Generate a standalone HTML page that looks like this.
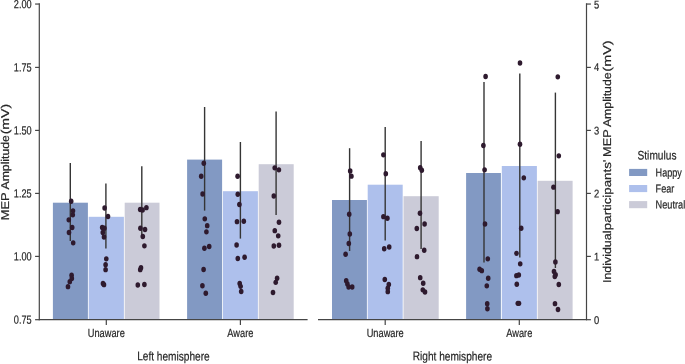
<!DOCTYPE html>
<html><head><meta charset="utf-8"><title>MEP Amplitude chart</title>
<style>html,body{margin:0;padding:0;background:#fff;}body{width:685px;height:364px;overflow:hidden;font-family:"Liberation Sans",sans-serif;}svg{display:block;will-change:transform;}</style>
</head><body>
<svg width="685" height="364" viewBox="0 0 685 364">
<rect width="685" height="364" fill="#fff"/>
<rect x="52.90" y="202.7" width="35.00" height="117.0" fill="#8299c3"/>
<rect x="88.70" y="216.8" width="35.20" height="102.9" fill="#aec0ec"/>
<rect x="124.70" y="202.7" width="34.80" height="117.0" fill="#cbcbd8"/>
<rect x="187.10" y="159.6" width="35.00" height="160.1" fill="#8299c3"/>
<rect x="222.90" y="191.2" width="35.00" height="128.5" fill="#aec0ec"/>
<rect x="258.70" y="164.2" width="35.00" height="155.5" fill="#cbcbd8"/>
<rect x="332.00" y="200.0" width="34.90" height="119.7" fill="#8299c3"/>
<rect x="367.70" y="184.7" width="35.00" height="135.0" fill="#aec0ec"/>
<rect x="403.50" y="196.2" width="35.20" height="123.5" fill="#cbcbd8"/>
<rect x="466.10" y="173.0" width="34.80" height="146.7" fill="#8299c3"/>
<rect x="501.80" y="166.0" width="35.10" height="153.7" fill="#aec0ec"/>
<rect x="537.70" y="180.8" width="34.90" height="138.9" fill="#cbcbd8"/>
<line x1="70.3" y1="162.9" x2="70.3" y2="241" stroke="#353535" stroke-width="1.4"/>
<line x1="105.9" y1="183.4" x2="105.9" y2="248.6" stroke="#353535" stroke-width="1.4"/>
<line x1="141.8" y1="166.3" x2="141.8" y2="238" stroke="#353535" stroke-width="1.4"/>
<line x1="204.6" y1="107" x2="204.6" y2="210.6" stroke="#353535" stroke-width="1.4"/>
<line x1="240.4" y1="142" x2="240.4" y2="238.6" stroke="#353535" stroke-width="1.4"/>
<line x1="276.1" y1="111.6" x2="276.1" y2="215" stroke="#353535" stroke-width="1.4"/>
<line x1="349.6" y1="148.2" x2="349.6" y2="251" stroke="#353535" stroke-width="1.4"/>
<line x1="385.2" y1="127" x2="385.2" y2="240.5" stroke="#353535" stroke-width="1.4"/>
<line x1="421.1" y1="141" x2="421.1" y2="249" stroke="#353535" stroke-width="1.4"/>
<line x1="484.0" y1="82" x2="484.0" y2="262.6" stroke="#353535" stroke-width="1.4"/>
<line x1="519.8" y1="73.6" x2="519.8" y2="257.4" stroke="#353535" stroke-width="1.4"/>
<line x1="555.4" y1="92.6" x2="555.4" y2="268" stroke="#353535" stroke-width="1.4"/>
<ellipse cx="71.20" cy="201.25" rx="2.3" ry="2.7" fill="#2e1a2e"/>
<ellipse cx="73.00" cy="210.85" rx="2.3" ry="2.7" fill="#2e1a2e"/>
<ellipse cx="72.80" cy="214.85" rx="2.3" ry="2.7" fill="#2e1a2e"/>
<ellipse cx="68.80" cy="219.85" rx="2.3" ry="2.7" fill="#2e1a2e"/>
<ellipse cx="72.20" cy="227.45" rx="2.3" ry="2.7" fill="#2e1a2e"/>
<ellipse cx="69.00" cy="232.45" rx="2.3" ry="2.7" fill="#2e1a2e"/>
<ellipse cx="73.20" cy="242.85" rx="2.3" ry="2.7" fill="#2e1a2e"/>
<ellipse cx="71.60" cy="275.25" rx="2.3" ry="2.7" fill="#2e1a2e"/>
<ellipse cx="71.80" cy="278.45" rx="2.3" ry="2.7" fill="#2e1a2e"/>
<ellipse cx="69.80" cy="281.65" rx="2.3" ry="2.7" fill="#2e1a2e"/>
<ellipse cx="68.00" cy="286.65" rx="2.3" ry="2.7" fill="#2e1a2e"/>
<ellipse cx="104.60" cy="208.05" rx="2.3" ry="2.7" fill="#2e1a2e"/>
<ellipse cx="108.00" cy="216.45" rx="2.3" ry="2.7" fill="#2e1a2e"/>
<ellipse cx="102.20" cy="227.45" rx="2.3" ry="2.7" fill="#2e1a2e"/>
<ellipse cx="104.40" cy="228.25" rx="2.3" ry="2.7" fill="#2e1a2e"/>
<ellipse cx="102.80" cy="232.45" rx="2.3" ry="2.7" fill="#2e1a2e"/>
<ellipse cx="104.00" cy="237.05" rx="2.3" ry="2.7" fill="#2e1a2e"/>
<ellipse cx="106.30" cy="258.85" rx="2.3" ry="2.7" fill="#2e1a2e"/>
<ellipse cx="105.60" cy="264.65" rx="2.3" ry="2.7" fill="#2e1a2e"/>
<ellipse cx="105.60" cy="269.65" rx="2.3" ry="2.7" fill="#2e1a2e"/>
<ellipse cx="103.00" cy="283.45" rx="2.3" ry="2.7" fill="#2e1a2e"/>
<ellipse cx="104.00" cy="284.65" rx="2.3" ry="2.7" fill="#2e1a2e"/>
<ellipse cx="146.40" cy="207.65" rx="2.3" ry="2.7" fill="#2e1a2e"/>
<ellipse cx="140.20" cy="209.45" rx="2.3" ry="2.7" fill="#2e1a2e"/>
<ellipse cx="142.60" cy="210.05" rx="2.3" ry="2.7" fill="#2e1a2e"/>
<ellipse cx="140.40" cy="228.25" rx="2.3" ry="2.7" fill="#2e1a2e"/>
<ellipse cx="145.00" cy="229.45" rx="2.3" ry="2.7" fill="#2e1a2e"/>
<ellipse cx="142.80" cy="236.45" rx="2.3" ry="2.7" fill="#2e1a2e"/>
<ellipse cx="144.40" cy="245.85" rx="2.3" ry="2.7" fill="#2e1a2e"/>
<ellipse cx="141.00" cy="267.65" rx="2.3" ry="2.7" fill="#2e1a2e"/>
<ellipse cx="140.20" cy="269.65" rx="2.3" ry="2.7" fill="#2e1a2e"/>
<ellipse cx="137.80" cy="285.05" rx="2.3" ry="2.7" fill="#2e1a2e"/>
<ellipse cx="144.40" cy="284.45" rx="2.3" ry="2.7" fill="#2e1a2e"/>
<ellipse cx="203.80" cy="163.25" rx="2.3" ry="2.7" fill="#2e1a2e"/>
<ellipse cx="201.20" cy="176.25" rx="2.3" ry="2.7" fill="#2e1a2e"/>
<ellipse cx="202.60" cy="194.05" rx="2.3" ry="2.7" fill="#2e1a2e"/>
<ellipse cx="204.80" cy="218.85" rx="2.3" ry="2.7" fill="#2e1a2e"/>
<ellipse cx="207.20" cy="225.65" rx="2.3" ry="2.7" fill="#2e1a2e"/>
<ellipse cx="206.40" cy="231.85" rx="2.3" ry="2.7" fill="#2e1a2e"/>
<ellipse cx="204.40" cy="248.25" rx="2.3" ry="2.7" fill="#2e1a2e"/>
<ellipse cx="209.20" cy="246.45" rx="2.3" ry="2.7" fill="#2e1a2e"/>
<ellipse cx="203.60" cy="269.55" rx="2.3" ry="2.7" fill="#2e1a2e"/>
<ellipse cx="202.40" cy="285.75" rx="2.3" ry="2.7" fill="#2e1a2e"/>
<ellipse cx="205.80" cy="293.25" rx="2.3" ry="2.7" fill="#2e1a2e"/>
<ellipse cx="237.60" cy="176.25" rx="2.3" ry="2.7" fill="#2e1a2e"/>
<ellipse cx="237.80" cy="194.25" rx="2.3" ry="2.7" fill="#2e1a2e"/>
<ellipse cx="239.40" cy="204.45" rx="2.3" ry="2.7" fill="#2e1a2e"/>
<ellipse cx="237.00" cy="221.65" rx="2.3" ry="2.7" fill="#2e1a2e"/>
<ellipse cx="243.80" cy="221.25" rx="2.3" ry="2.7" fill="#2e1a2e"/>
<ellipse cx="236.60" cy="245.05" rx="2.3" ry="2.7" fill="#2e1a2e"/>
<ellipse cx="237.80" cy="258.45" rx="2.3" ry="2.7" fill="#2e1a2e"/>
<ellipse cx="244.60" cy="257.25" rx="2.3" ry="2.7" fill="#2e1a2e"/>
<ellipse cx="239.70" cy="283.55" rx="2.3" ry="2.7" fill="#2e1a2e"/>
<ellipse cx="240.60" cy="286.35" rx="2.3" ry="2.7" fill="#2e1a2e"/>
<ellipse cx="241.20" cy="291.45" rx="2.3" ry="2.7" fill="#2e1a2e"/>
<ellipse cx="274.70" cy="167.85" rx="2.3" ry="2.7" fill="#2e1a2e"/>
<ellipse cx="278.90" cy="169.85" rx="2.3" ry="2.7" fill="#2e1a2e"/>
<ellipse cx="273.80" cy="196.05" rx="2.3" ry="2.7" fill="#2e1a2e"/>
<ellipse cx="279.00" cy="222.25" rx="2.3" ry="2.7" fill="#2e1a2e"/>
<ellipse cx="274.80" cy="230.65" rx="2.3" ry="2.7" fill="#2e1a2e"/>
<ellipse cx="278.20" cy="235.85" rx="2.3" ry="2.7" fill="#2e1a2e"/>
<ellipse cx="273.80" cy="246.05" rx="2.3" ry="2.7" fill="#2e1a2e"/>
<ellipse cx="279.00" cy="245.25" rx="2.3" ry="2.7" fill="#2e1a2e"/>
<ellipse cx="277.10" cy="278.25" rx="2.3" ry="2.7" fill="#2e1a2e"/>
<ellipse cx="275.70" cy="282.35" rx="2.3" ry="2.7" fill="#2e1a2e"/>
<ellipse cx="273.00" cy="292.45" rx="2.3" ry="2.7" fill="#2e1a2e"/>
<ellipse cx="350.20" cy="171.05" rx="2.3" ry="2.7" fill="#2e1a2e"/>
<ellipse cx="351.40" cy="176.15" rx="2.3" ry="2.7" fill="#2e1a2e"/>
<ellipse cx="349.20" cy="214.25" rx="2.3" ry="2.7" fill="#2e1a2e"/>
<ellipse cx="349.80" cy="234.05" rx="2.3" ry="2.7" fill="#2e1a2e"/>
<ellipse cx="348.80" cy="243.55" rx="2.3" ry="2.7" fill="#2e1a2e"/>
<ellipse cx="345.60" cy="254.25" rx="2.3" ry="2.7" fill="#2e1a2e"/>
<ellipse cx="346.20" cy="280.65" rx="2.3" ry="2.7" fill="#2e1a2e"/>
<ellipse cx="347.40" cy="284.05" rx="2.3" ry="2.7" fill="#2e1a2e"/>
<ellipse cx="348.60" cy="287.05" rx="2.3" ry="2.7" fill="#2e1a2e"/>
<ellipse cx="352.20" cy="287.05" rx="2.3" ry="2.7" fill="#2e1a2e"/>
<ellipse cx="383.40" cy="154.85" rx="2.3" ry="2.7" fill="#2e1a2e"/>
<ellipse cx="385.80" cy="173.65" rx="2.3" ry="2.7" fill="#2e1a2e"/>
<ellipse cx="383.40" cy="216.65" rx="2.3" ry="2.7" fill="#2e1a2e"/>
<ellipse cx="387.40" cy="218.25" rx="2.3" ry="2.7" fill="#2e1a2e"/>
<ellipse cx="384.20" cy="248.75" rx="2.3" ry="2.7" fill="#2e1a2e"/>
<ellipse cx="389.20" cy="247.05" rx="2.3" ry="2.7" fill="#2e1a2e"/>
<ellipse cx="384.80" cy="279.45" rx="2.3" ry="2.7" fill="#2e1a2e"/>
<ellipse cx="388.80" cy="284.45" rx="2.3" ry="2.7" fill="#2e1a2e"/>
<ellipse cx="387.80" cy="288.25" rx="2.3" ry="2.7" fill="#2e1a2e"/>
<ellipse cx="387.80" cy="291.65" rx="2.3" ry="2.7" fill="#2e1a2e"/>
<ellipse cx="420.20" cy="167.65" rx="2.3" ry="2.7" fill="#2e1a2e"/>
<ellipse cx="421.80" cy="170.25" rx="2.3" ry="2.7" fill="#2e1a2e"/>
<ellipse cx="420.00" cy="213.25" rx="2.3" ry="2.7" fill="#2e1a2e"/>
<ellipse cx="424.60" cy="224.05" rx="2.3" ry="2.7" fill="#2e1a2e"/>
<ellipse cx="416.80" cy="228.45" rx="2.3" ry="2.7" fill="#2e1a2e"/>
<ellipse cx="424.20" cy="250.25" rx="2.3" ry="2.7" fill="#2e1a2e"/>
<ellipse cx="417.00" cy="256.65" rx="2.3" ry="2.7" fill="#2e1a2e"/>
<ellipse cx="420.20" cy="277.65" rx="2.3" ry="2.7" fill="#2e1a2e"/>
<ellipse cx="423.20" cy="283.25" rx="2.3" ry="2.7" fill="#2e1a2e"/>
<ellipse cx="422.80" cy="289.85" rx="2.3" ry="2.7" fill="#2e1a2e"/>
<ellipse cx="425.00" cy="292.05" rx="2.3" ry="2.7" fill="#2e1a2e"/>
<ellipse cx="485.60" cy="76.45" rx="2.3" ry="2.7" fill="#2e1a2e"/>
<ellipse cx="483.40" cy="145.45" rx="2.3" ry="2.7" fill="#2e1a2e"/>
<ellipse cx="484.60" cy="169.85" rx="2.3" ry="2.7" fill="#2e1a2e"/>
<ellipse cx="485.00" cy="224.05" rx="2.3" ry="2.7" fill="#2e1a2e"/>
<ellipse cx="487.80" cy="258.85" rx="2.3" ry="2.7" fill="#2e1a2e"/>
<ellipse cx="479.60" cy="269.25" rx="2.3" ry="2.7" fill="#2e1a2e"/>
<ellipse cx="481.80" cy="270.65" rx="2.3" ry="2.7" fill="#2e1a2e"/>
<ellipse cx="488.20" cy="278.25" rx="2.3" ry="2.7" fill="#2e1a2e"/>
<ellipse cx="486.80" cy="285.85" rx="2.3" ry="2.7" fill="#2e1a2e"/>
<ellipse cx="487.20" cy="303.75" rx="2.3" ry="2.7" fill="#2e1a2e"/>
<ellipse cx="487.40" cy="308.75" rx="2.3" ry="2.7" fill="#2e1a2e"/>
<ellipse cx="520.00" cy="63.05" rx="2.3" ry="2.7" fill="#2e1a2e"/>
<ellipse cx="520.00" cy="144.25" rx="2.3" ry="2.7" fill="#2e1a2e"/>
<ellipse cx="523.80" cy="177.85" rx="2.3" ry="2.7" fill="#2e1a2e"/>
<ellipse cx="521.20" cy="228.25" rx="2.3" ry="2.7" fill="#2e1a2e"/>
<ellipse cx="516.50" cy="253.35" rx="2.3" ry="2.7" fill="#2e1a2e"/>
<ellipse cx="520.20" cy="263.85" rx="2.3" ry="2.7" fill="#2e1a2e"/>
<ellipse cx="516.40" cy="275.65" rx="2.3" ry="2.7" fill="#2e1a2e"/>
<ellipse cx="518.80" cy="275.05" rx="2.3" ry="2.7" fill="#2e1a2e"/>
<ellipse cx="516.80" cy="284.25" rx="2.3" ry="2.7" fill="#2e1a2e"/>
<ellipse cx="517.80" cy="303.35" rx="2.3" ry="2.7" fill="#2e1a2e"/>
<ellipse cx="519.00" cy="303.35" rx="2.3" ry="2.7" fill="#2e1a2e"/>
<ellipse cx="557.80" cy="76.85" rx="2.3" ry="2.7" fill="#2e1a2e"/>
<ellipse cx="558.80" cy="155.85" rx="2.3" ry="2.7" fill="#2e1a2e"/>
<ellipse cx="553.50" cy="187.15" rx="2.3" ry="2.7" fill="#2e1a2e"/>
<ellipse cx="557.60" cy="211.65" rx="2.3" ry="2.7" fill="#2e1a2e"/>
<ellipse cx="555.40" cy="262.05" rx="2.3" ry="2.7" fill="#2e1a2e"/>
<ellipse cx="554.00" cy="271.45" rx="2.3" ry="2.7" fill="#2e1a2e"/>
<ellipse cx="555.60" cy="274.65" rx="2.3" ry="2.7" fill="#2e1a2e"/>
<ellipse cx="554.80" cy="276.45" rx="2.3" ry="2.7" fill="#2e1a2e"/>
<ellipse cx="558.80" cy="284.45" rx="2.3" ry="2.7" fill="#2e1a2e"/>
<ellipse cx="555.00" cy="303.65" rx="2.3" ry="2.7" fill="#2e1a2e"/>
<ellipse cx="558.00" cy="309.55" rx="2.3" ry="2.7" fill="#2e1a2e"/>
<g stroke="#454545" stroke-width="1.2" fill="none">
<path d="M39.3 3.3 V320.2"/>
<path d="M38.8 319.7 H307.6"/>
<path d="M318.0 319.7 H587.0"/>
<path d="M586.5 3.3 V320.2"/>
<path d="M35.099999999999994 4.05 H39.3"/>
<path d="M586.5 4.05 H590.9"/>
<path d="M35.099999999999994 67.40 H39.3"/>
<path d="M586.5 67.40 H590.9"/>
<path d="M35.099999999999994 130.40 H39.3"/>
<path d="M586.5 130.40 H590.9"/>
<path d="M35.099999999999994 193.40 H39.3"/>
<path d="M586.5 193.40 H590.9"/>
<path d="M35.099999999999994 256.40 H39.3"/>
<path d="M586.5 256.40 H590.9"/>
<path d="M35.099999999999994 319.70 H39.3"/>
<path d="M586.5 319.70 H590.9"/>
<path d="M106.3 319.7 V324.9"/>
<path d="M240.4 319.7 V324.9"/>
<path d="M385.2 319.7 V324.9"/>
<path d="M519.3 319.7 V324.9"/>
</g>
<g font-family="Liberation Sans, sans-serif">
<text transform="translate(31.7 8.2) rotate(0.05) scale(0.765 1)" font-size="12.0" text-anchor="end" fill="#262626" stroke="#262626" stroke-width="0.2" letter-spacing="0" word-spacing="0">2.00</text>
<text transform="translate(31.7 71.55000000000001) rotate(0.05) scale(0.765 1)" font-size="12.0" text-anchor="end" fill="#262626" stroke="#262626" stroke-width="0.2" letter-spacing="0" word-spacing="0">1.75</text>
<text transform="translate(31.7 134.55) rotate(0.05) scale(0.765 1)" font-size="12.0" text-anchor="end" fill="#262626" stroke="#262626" stroke-width="0.2" letter-spacing="0" word-spacing="0">1.50</text>
<text transform="translate(31.7 197.55) rotate(0.05) scale(0.765 1)" font-size="12.0" text-anchor="end" fill="#262626" stroke="#262626" stroke-width="0.2" letter-spacing="0" word-spacing="0">1.25</text>
<text transform="translate(31.7 260.54999999999995) rotate(0.05) scale(0.765 1)" font-size="12.0" text-anchor="end" fill="#262626" stroke="#262626" stroke-width="0.2" letter-spacing="0" word-spacing="0">1.00</text>
<text transform="translate(31.7 323.84999999999997) rotate(0.05) scale(0.765 1)" font-size="12.0" text-anchor="end" fill="#262626" stroke="#262626" stroke-width="0.2" letter-spacing="0" word-spacing="0">0.75</text>
<text transform="translate(594.1 8.399999999999999) rotate(0.05) scale(0.83 1)" font-size="11.3" text-anchor="start" fill="#262626" stroke="#262626" stroke-width="0.2" letter-spacing="0" word-spacing="0">5</text>
<text transform="translate(594.1 71.0) rotate(0.05) scale(0.83 1)" font-size="11.3" text-anchor="start" fill="#262626" stroke="#262626" stroke-width="0.2" letter-spacing="0" word-spacing="0">4</text>
<text transform="translate(594.1 134.55) rotate(0.05) scale(0.83 1)" font-size="11.3" text-anchor="start" fill="#262626" stroke="#262626" stroke-width="0.2" letter-spacing="0" word-spacing="0">3</text>
<text transform="translate(594.1 197.6) rotate(0.05) scale(0.83 1)" font-size="11.3" text-anchor="start" fill="#262626" stroke="#262626" stroke-width="0.2" letter-spacing="0" word-spacing="0">2</text>
<text transform="translate(594.1 260.4) rotate(0.05) scale(0.83 1)" font-size="11.3" text-anchor="start" fill="#262626" stroke="#262626" stroke-width="0.2" letter-spacing="0" word-spacing="0">1</text>
<text transform="translate(594.1 323.9) rotate(0.05) scale(0.83 1)" font-size="11.3" text-anchor="start" fill="#262626" stroke="#262626" stroke-width="0.2" letter-spacing="0" word-spacing="0">0</text>
<text transform="translate(106.3 337.1) rotate(0.05) scale(0.785 1)" font-size="11.8" text-anchor="middle" fill="#262626" stroke="#262626" stroke-width="0.2" letter-spacing="0" word-spacing="0">Unaware</text>
<text transform="translate(240.4 337.1) rotate(0.05) scale(0.785 1)" font-size="11.8" text-anchor="middle" fill="#262626" stroke="#262626" stroke-width="0.2" letter-spacing="0" word-spacing="0">Aware</text>
<text transform="translate(385.2 337.1) rotate(0.05) scale(0.785 1)" font-size="11.8" text-anchor="middle" fill="#262626" stroke="#262626" stroke-width="0.2" letter-spacing="0" word-spacing="0">Unaware</text>
<text transform="translate(519.3 337.1) rotate(0.05) scale(0.785 1)" font-size="11.8" text-anchor="middle" fill="#262626" stroke="#262626" stroke-width="0.2" letter-spacing="0" word-spacing="0">Aware</text>
<text transform="translate(173.4 360.4) rotate(0.05) scale(0.81 1)" font-size="12.5" text-anchor="middle" fill="#262626" stroke="#262626" stroke-width="0.2" letter-spacing="0" word-spacing="0">Left hemisphere</text>
<text transform="translate(452.4 360.4) rotate(0.05) scale(0.81 1)" font-size="12.5" text-anchor="middle" fill="#262626" stroke="#262626" stroke-width="0.2" letter-spacing="0" word-spacing="0">Right hemisphere</text>
<text transform="translate(9.0 220.33) rotate(-90.05) scale(1.1422 1)" font-size="11.3" text-anchor="start" fill="#262626" stroke="#262626" stroke-width="0.2" letter-spacing="0" word-spacing="0">MEP</text>
<text transform="translate(9.0 189.5) rotate(-90.05) scale(1.0841 1)" font-size="11.3" text-anchor="start" fill="#262626" stroke="#262626" stroke-width="0.2" letter-spacing="0" word-spacing="0">Amplitude</text>
<text transform="translate(9.0 134.35) rotate(-90.05) scale(1.2493 1)" font-size="11.3" text-anchor="start" fill="#262626" stroke="#262626" stroke-width="0.2" letter-spacing="0" word-spacing="0">(mV)</text>
<text transform="translate(611.0 283.02) rotate(-90.05) scale(1.1002 1)" font-size="11.3" text-anchor="start" fill="#262626" stroke="#262626" stroke-width="0.2" letter-spacing="0" word-spacing="0">Individual</text>
<text transform="translate(611.0 230.13) rotate(-90.05) scale(1.1754 1)" font-size="11.3" text-anchor="start" fill="#262626" stroke="#262626" stroke-width="0.2" letter-spacing="0" word-spacing="0">participants'</text>
<text transform="translate(611.0 157.02) rotate(-90.05) scale(1.1334 1)" font-size="11.3" text-anchor="start" fill="#262626" stroke="#262626" stroke-width="0.2" letter-spacing="0" word-spacing="0">MEP</text>
<text transform="translate(611.0 127.1) rotate(-90.05) scale(1.0901 1)" font-size="11.3" text-anchor="start" fill="#262626" stroke="#262626" stroke-width="0.2" letter-spacing="0" word-spacing="0">Amplitude</text>
<text transform="translate(611.0 71.66) rotate(-90.05) scale(1.2754 1)" font-size="11.3" text-anchor="start" fill="#262626" stroke="#262626" stroke-width="0.2" letter-spacing="0" word-spacing="0">(mV)</text>
<text transform="translate(657.0 159.6) rotate(0.05) scale(0.82 1)" font-size="12.4" text-anchor="middle" fill="#262626" stroke="#262626" stroke-width="0.2" letter-spacing="0" word-spacing="0">Stimulus</text>
<rect x="629.1" y="168.9" width="18.1" height="7.1" fill="#8299c3"/>
<text transform="translate(655.6 176.4) rotate(0.05) scale(0.79 1)" font-size="11.5" text-anchor="start" fill="#262626" stroke="#262626" stroke-width="0.2" letter-spacing="0" word-spacing="0">Happy</text>
<rect x="629.1" y="185.0" width="18.1" height="7.1" fill="#aec0ec"/>
<text transform="translate(655.6 192.5) rotate(0.05) scale(0.79 1)" font-size="11.5" text-anchor="start" fill="#262626" stroke="#262626" stroke-width="0.2" letter-spacing="0" word-spacing="0">Fear</text>
<rect x="629.1" y="201.1" width="18.1" height="7.1" fill="#cbcbd8"/>
<text transform="translate(655.6 208.60000000000002) rotate(0.05) scale(0.8 1)" font-size="11.5" text-anchor="start" fill="#262626" stroke="#262626" stroke-width="0.2" letter-spacing="0" word-spacing="0">Neutral</text>
</g>
</svg>
</body></html>
